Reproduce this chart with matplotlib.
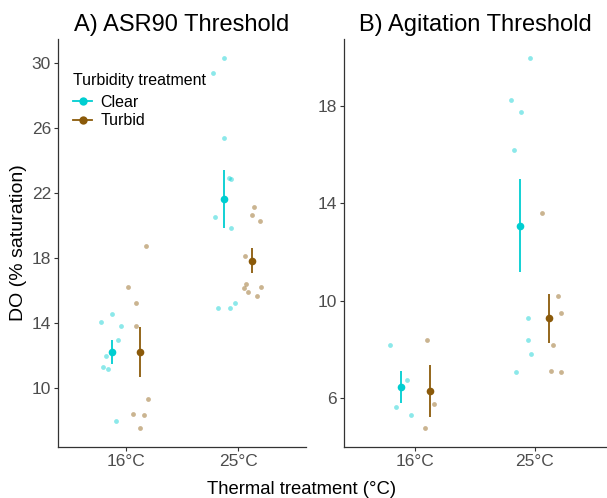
import numpy as np
import matplotlib
matplotlib.use("Agg")
import matplotlib.pyplot as plt
from matplotlib.lines import Line2D

plt.rcParams['font.family'] = ['Liberation Sans', 'DejaVu Sans']

# categories
temps = ["16°C", "25°C"]
treatments = ["Clear", "Turbid"]
colors = {"Clear": "#00CED1", "Turbid": "#8B5A0A"}

# raw DO values, panel A (ASR90 threshold)
asr_clear_16 = [14.06, 14.53, 13.81, 12.99, 11.99, 11.33, 11.19, 7.97]
asr_turbid_16 = [18.76, 16.19, 15.25, 13.85, 9.34, 8.40, 8.36, 7.52]
asr_clear_25 = [30.33, 29.4, 25.4, 22.94, 22.86, 20.52, 19.83, 14.90, 14.94, 15.23]
asr_turbid_25 = [21.15, 20.66, 20.28, 18.1, 16.40, 16.13, 15.91, 16.22, 15.64]

# raw DO values, panel B (agitation threshold)
agi_clear_16 = [8.17, 6.75, 5.62, 5.30]
agi_turbid_16 = [8.37, 5.77, 4.75]
agi_clear_25 = [19.99, 18.24, 17.74, 16.19, 9.27, 8.37, 7.82, 7.08]
agi_turbid_25 = [13.60, 10.18, 9.49, 8.17, 7.12, 7.08]

# horizontal jitter of raw points (as seen in the figure)
jit_asr_clear_16 = [-0.092, 0.006, 0.087, 0.06, -0.045, -0.078, -0.029, 0.042]
jit_asr_turbid_16 = [0.06, -0.107, -0.036, -0.036, 0.074, -0.06, 0.038, 0.006]
jit_asr_clear_25 = [0.0, -0.098, 0.0, 0.045, 0.063, -0.083, 0.056, -0.056, 0.047, 0.092]
jit_asr_turbid_25 = [0.015, -0.006, 0.071, -0.065, -0.056, -0.078, -0.042, 0.08, 0.036]
jit_agi_clear_16 = [-0.088, 0.057, -0.041, 0.09]
jit_agi_turbid_16 = [-0.027, 0.03, -0.043]
jit_agi_clear_25 = [0.09, -0.074, 0.011, -0.049, 0.066, 0.066, 0.093, -0.027]
jit_agi_turbid_25 = [-0.063, 0.071, 0.096, 0.033, 0.011, 0.096]

panels = [
    {
        "title": "A) ASR90 Threshold",
        "yticks": [10, 14, 18, 22, 26, 30],
        "data": {("Clear", 0): (asr_clear_16, jit_asr_clear_16),
                 ("Turbid", 0): (asr_turbid_16, jit_asr_turbid_16),
                 ("Clear", 1): (asr_clear_25, jit_asr_clear_25),
                 ("Turbid", 1): (asr_turbid_25, jit_asr_turbid_25)},
        "rect": [58 / 607, 51 / 498, 248 / 607, 408 / 498],
    },
    {
        "title": "B) Agitation Threshold",
        "yticks": [6, 10, 14, 18],
        "data": {("Clear", 0): (agi_clear_16, jit_agi_clear_16),
                 ("Turbid", 0): (agi_turbid_16, jit_agi_turbid_16),
                 ("Clear", 1): (agi_clear_25, jit_agi_clear_25),
                 ("Turbid", 1): (agi_turbid_25, jit_agi_turbid_25)},
        "rect": [344 / 607, 51 / 498, 262 / 607, 408 / 498],
    },
]

dodge = {"Clear": -0.125, "Turbid": 0.125}

fig = plt.figure(figsize=(6.07, 4.98), dpi=100)

for i, p in enumerate(panels):
    ax = fig.add_axes(p["rect"])
    lo, hi = np.inf, -np.inf
    for (trt, t), (vals, jit) in p["data"].items():
        vals = np.array(vals)
        x0 = t + 1 + dodge[trt]
        ax.scatter(x0 + np.array(jit), vals, s=12, color=colors[trt],
                   alpha=0.45, linewidths=0, zorder=2)
        # mean +/- standard error
        m = vals.mean()
        se = vals.std(ddof=1) / np.sqrt(len(vals))
        ax.plot([x0, x0], [m - se, m + se], color=colors[trt], lw=1.3,
                solid_capstyle='butt', zorder=3)
        ax.plot(x0, m, 'o', color=colors[trt], ms=5.5, mew=0, zorder=4)
        lo = min(lo, vals.min(), m - se)
        hi = max(hi, vals.max(), m + se)
    pad = (hi - lo) * 0.05
    ax.set_ylim(lo - pad, hi + pad)
    ax.set_xlim(0.4, 2.6)
    ax.set_xticks([1, 2])
    ax.set_xticklabels(temps)
    ax.set_yticks(p["yticks"])
    ax.tick_params(labelsize=12.5, labelcolor='#4D4D4D', color='#333333',
                   length=3, width=0.8, pad=2)
    for s in ["top", "right"]:
        ax.spines[s].set_visible(False)
    for s in ["left", "bottom"]:
        ax.spines[s].set_color('#333333')
        ax.spines[s].set_linewidth(0.9)
    ax.set_title(p["title"], fontsize=17, pad=6)
    if i == 0:
        handles = [Line2D([0], [0], color=colors[t], marker='o', ms=6,
                          lw=1.3, mew=0) for t in treatments]
        ax.legend(handles, treatments, loc='center left',
                  bbox_to_anchor=(15 / 248, (447 - 111.5) / 408),
                  frameon=False, fontsize=11.5, handlelength=1.2,
                  handletextpad=0.5, labelspacing=0.2, borderaxespad=0,
                  borderpad=0)
        fig.text(73 / 607, (498 - 80) / 498, "Turbidity treatment",
                 ha='left', va='center', fontsize=11.5)

fig.text(0.03, (498 - 243) / 498, "DO (% saturation)", rotation=90,
         ha='center', va='center', fontsize=14)
fig.text(0.497, (498 - 489) / 498, "Thermal treatment (°C)",
         ha='center', va='center', fontsize=13.3)

fig.savefig("out.png", dpi=100)
